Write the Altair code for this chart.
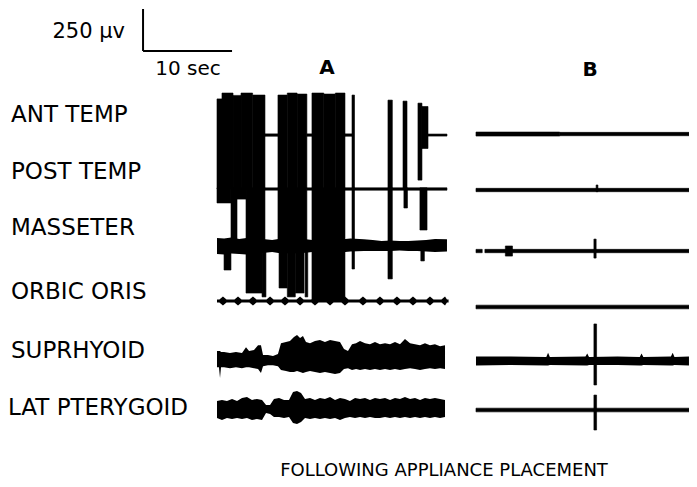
import altair as alt
import pandas as pd

# ---------------- data (time in seconds, amplitude in microvolts) ----------------
channels = ["ANT TEMP", "POST TEMP", "MASSETER", "ORBIC ORIS", "SUPRHYOID", "LAT PTERYGOID"]

# vertical offset of each trace (uV) in panel A and panel B
offset_A = [-756, -1077, -1416, -1743, -2083, -2386]
offset_B = [-750, -1083, -1446, -1779, -2100, -2392]

# burst / spike / baseline segments : (channel index, t start, t end, upper, lower)
seg_A = [
    (0, 0.00, 0.56, 215, -321), (0, 0.56, 1.80, 250, -321), (0, 1.80, 2.70, 236, -321),
    (0, 2.70, 4.00, 250, -321), (0, 4.00, 5.39, 238, -321), (0, 5.39, 6.85, 7, -7),
    (0, 6.85, 7.90, 238, -321), (0, 7.90, 9.00, 250, -321), (0, 9.00, 10.10, 244, -321),
    (0, 10.10, 10.67, 7, -7), (0, 10.67, 12.00, 250, -321), (0, 12.00, 13.30, 244, -321),
    (0, 13.30, 14.38, 250, -321), (0, 14.38, 15.17, 7, -7), (0, 15.17, 15.45, 238, -321),
    (0, 19.21, 19.70, 208, -321), (0, 20.90, 21.35, 202, -321), (0, 22.58, 23.03, 190, -268),
    (0, 23.03, 23.71, 170, -80), (0, 23.71, 25.84, 6, -6),
    (1, 0.00, 1.57, 7, -83), (1, 1.57, 2.25, 7, -351), (1, 2.25, 3.26, 7, -60),
    (1, 3.26, 5.39, 7, -351), (1, 5.39, 6.85, 7, -7), (1, 6.85, 10.10, 7, -351),
    (1, 10.10, 10.67, 7, -7), (1, 10.67, 14.38, 7, -351), (1, 14.38, 25.84, 7, -7),
    (1, 15.17, 15.45, 7, -351), (1, 19.21, 19.70, 7, -351), (1, 21.00, 21.40, 7, -113),
    (1, 22.80, 23.60, 7, -244),
    (2, 0.79, 1.57, 0, -143), (2, 3.26, 5.06, 0, -280), (2, 5.06, 5.50, 0, -303),
    (2, 6.97, 7.90, 0, -250), (2, 7.90, 8.80, 0, -303), (2, 8.80, 9.78, 0, -280),
    (2, 9.90, 10.20, 0, -303), (2, 10.67, 14.38, 0, -327), (2, 15.17, 15.45, 0, -137),
    (2, 19.21, 19.70, 0, -196), (2, 22.90, 23.30, 0, -89),
]
seg_B = [
    (0, 29.10, 38.50, 12, -12), (0, 38.50, 53.03, 10, -10),
    (1, 29.10, 53.03, 10, -10), (1, 42.60, 42.80, 30, -10),
    (2, 29.10, 29.80, 10, -10), (2, 30.10, 53.03, 10, -10),
    (2, 32.40, 33.20, 30, -30), (2, 42.35, 42.60, 71, -42),
    (3, 29.10, 53.03, 11, -11),
    (4, 42.35, 42.65, 220, -143),
    (5, 29.10, 53.03, 11, -11), (5, 42.35, 42.65, 89, -119),
]

# continuous EMG envelopes (t, upper, lower)
mass_A_t = [0.0, 0.8, 1.6, 2.5, 3.3, 4.2, 5.4, 6.2, 6.9, 8.5, 10.0, 10.7, 12.5, 14.4, 15.0,
            16.5, 17.5, 18.5, 19.5, 20.5, 21.5, 22.5, 23.5, 24.5, 25.84]
mass_A_up = [48, 45, 50, 42, 48, 45, 40, 36, 42, 45, 40, 36, 40, 42, 45,
             40, 36, 30, 33, 30, 30, 33, 36, 42, 40]
mass_A_dn = [-48, -50, -45, -48, -50, -45, -40, -36, -42, -45, -40, -36, -40, -36, -33,
             -30, -30, -30, -30, -27, -30, -30, -33, -36, -33]

orb_A_blobs = [0.67, 2.36, 4.04, 5.96, 7.64, 9.33, 11.01, 12.70, 14.38, 16.40,
               18.31, 20.22, 22.02, 23.93, 25.62]

sup_A_t = [0.00, 0.22, 0.34, 0.45, 0.79, 1.46, 2.13, 2.81, 3.26, 3.60, 4.16, 4.61, 4.94,
           5.17, 5.73, 6.29, 6.85, 7.19, 7.75, 8.20, 8.65, 8.99, 9.33, 9.66, 10.00, 10.45,
           11.01, 11.57, 12.13, 12.70, 13.26, 13.82, 14.27, 14.72, 15.17, 15.62, 16.07,
           16.63, 17.19, 17.75, 18.31, 18.88, 19.44, 20.00, 20.56, 21.12, 21.69, 22.25,
           22.81, 23.37, 23.93, 24.49, 25.06, 25.62]
sup_A_up = [42, 42, 42, 36, 36, 30, 36, 30, 65, 42, 48, 77, 77,
            18, 18, 12, 24, 89, 95, 101, 125, 137, 119, 131, 95, 89,
            101, 107, 95, 107, 101, 95, 54, 42, 83, 89, 101,
            89, 83, 95, 83, 89, 83, 95, 83, 113, 89, 83,
            77, 89, 77, 83, 71, 77]
sup_A_dn = [-54, -54, -119, -54, -54, -60, -54, -60, -54, -54, -60, -65, -89,
            -48, -42, -42, -48, -71, -77, -83, -83, -77, -83, -89, -83, -77,
            -83, -89, -83, -89, -95, -89, -65, -60, -71, -65, -71,
            -65, -71, -65, -71, -65, -71, -65, -71, -65, -60, -65,
            -71, -65, -60, -65, -60, -65]

lat_A_t = [0.00, 0.56, 1.12, 1.69, 2.25, 2.81, 3.37, 3.93, 4.49, 5.06, 5.51, 5.96, 6.40,
           6.97, 7.53, 8.09, 8.54, 8.99, 9.44, 9.89, 10.45, 11.01, 11.57, 12.13, 12.70,
           13.26, 13.82, 14.38, 14.94, 15.51, 16.07, 16.63, 17.19, 17.75, 18.31, 18.88,
           19.44, 20.00, 20.56, 21.12, 21.69, 22.25, 22.81, 23.37, 23.93, 24.49, 25.06, 25.62]
lat_A_up = [48, 54, 48, 60, 48, 65, 71, 54, 60, 54, 24, 24, 60,
            65, 54, 54, 101, 107, 95, 60, 65, 54, 65, 60, 71,
            54, 65, 60, 48, 65, 60, 65, 54, 65, 60, 65,
            54, 65, 60, 71, 60, 65, 54, 65, 60, 65, 60, 54]
lat_A_dn = [-54, -65, -54, -60, -54, -60, -54, -65, -60, -65, -24, -30, -48,
            -48, -54, -48, -83, -89, -77, -54, -60, -54, -60, -54, -60,
            -54, -65, -54, -48, -54, -48, -54, -48, -54, -54, -48,
            -54, -48, -54, -48, -54, -48, -54, -48, -54, -48, -54, -48]

sup_B_t = [29.10, 33.00, 37.00, 37.20, 37.40, 41.40, 41.60, 41.80, 45.00, 47.50, 47.70,
           47.90, 51.00, 51.20, 51.40, 53.03]
sup_B_up = [27, 27, 24, 48, 24, 27, 45, 24, 27, 24, 45, 24, 27, 48, 24, 27]
sup_B_dn = [-27, -24, -27, -27, -24, -27, -27, -24, -24, -27, -27, -24, -27, -27, -24, -27]

# calibration bar
scale_uv = 250
scale_sec = 10

# ---------------- build tables ----------------
rows = []
for panel, segs, offs in (("A", seg_A, offset_A), ("B", seg_B, offset_B)):
    for ch, t0, t1, up, dn in segs:
        rows.append({"t0": t0, "t1": t1, "top": offs[ch] + up, "bot": offs[ch] + dn})
seg_df = pd.DataFrame(rows)

env_rows = []
def add_env(name, off, ts, ups, dns):
    for t, u, d in zip(ts, ups, dns):
        env_rows.append({"trace": name, "t": t, "top": off + u, "bot": off + d})

add_env("mass_A", offset_A[2], mass_A_t, mass_A_up, mass_A_dn)
add_env("sup_A", offset_A[4], sup_A_t, sup_A_up, sup_A_dn)
add_env("lat_A", offset_A[5], lat_A_t, lat_A_up, lat_A_dn)
add_env("sup_B", offset_B[4], sup_B_t, sup_B_up, sup_B_dn)
orb_t, orb_u, orb_d = [0.0], [9], [-9]
for b in orb_A_blobs:
    orb_t += [b - 0.4, b, b + 0.4]
    orb_u += [9, 27, 9]
    orb_d += [-9, -27, -9]
orb_t.append(25.84); orb_u.append(9); orb_d.append(-9)
add_env("orb_A", offset_A[3], orb_t, orb_u, orb_d)
env_df = pd.DataFrame(env_rows)

bar_t0, bar_y0 = -8.31, -256
bar_df = pd.DataFrame([
    {"x": bar_t0, "x2": bar_t0, "y": bar_y0, "y2": bar_y0 + scale_uv},
    {"x": bar_t0, "x2": bar_t0 + scale_sec, "y": bar_y0, "y2": bar_y0},
])

# ---------------- chart ----------------
W, H = 681, 471
xs = alt.Scale(domain=[-23.483, -23.483 + W / 8.9], nice=False, zero=False)
ys = alt.Scale(domain=[-H * 5.95, 0], nice=False, zero=False)
FONT = "DejaVu Sans"

rects = alt.Chart(seg_df).mark_rect(color="black", stroke="black", strokeWidth=0.6).encode(
    x=alt.X("t0:Q", scale=xs, axis=None), x2="t1:Q",
    y=alt.Y("top:Q", scale=ys, axis=None), y2="bot:Q",
)
areas = alt.Chart(env_df).mark_area(color="black", interpolate="linear", orient="vertical").encode(
    x=alt.X("t:Q", scale=xs, axis=None),
    y=alt.Y("top:Q", scale=ys, axis=None), y2="bot:Q",
    detail="trace:N",
)
bar = alt.Chart(bar_df).mark_rule(color="black", strokeWidth=2).encode(
    x=alt.X("x:Q", scale=xs, axis=None), x2="x2:Q",
    y=alt.Y("y:Q", scale=ys, axis=None), y2="y2:Q",
)

def label(txt, px, py, size, align="left", weight="normal"):
    return alt.Chart(pd.DataFrame({"label": [txt]})).mark_text(
        font=FONT, fontSize=size, align=align, baseline="middle",
        fontWeight=weight, color="black",
    ).encode(text="label:N", x=alt.value(px), y=alt.value(py))

label_y = [107, 164, 220, 284, 343, 400]
label_x = [3, 3, 3, 3, 3, 0]
texts = [label(c, label_x[i], label_y[i], 23) for i, c in enumerate(channels)]
texts += [
    label("250 μv", 117, 24, 21, align="right"),
    label("10 sec", 180, 61, 20, align="center"),
    label("A", 319, 60, 20, align="center", weight="bold"),
    label("B", 582, 62, 20, align="center", weight="bold"),
    label("FOLLOWING APPLIANCE PLACEMENT", 436, 463, 18, align="center"),
]

chart = alt.layer(rects, areas, bar, *texts).properties(
    width=W, height=H, padding=0,
    autosize=alt.AutoSizeParams(type="none"),
).configure_view(stroke=None)

chart.save("out.html", embed_options={"renderer": "svg", "actions": False})
